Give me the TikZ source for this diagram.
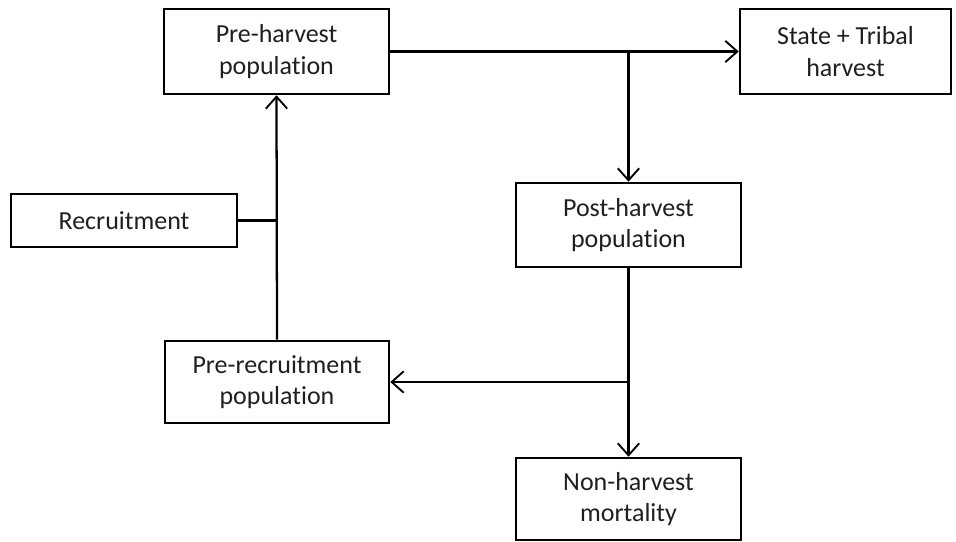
\documentclass[tikz,border=0pt]{standalone}
\usepackage{fontspec}
\setmainfont{Carlito}[Ligatures=NoCommon]
\usetikzlibrary{arrows.meta}
\begin{document}
\begin{tikzpicture}[x=0.75pt,y=-0.75pt,
  box/.style={draw=black,line width=1.9pt,rectangle,align=center,inner sep=0pt,
    font=\fontsize{19.5}{23.5}\selectfont,text=black!88},
  conn/.style={line width=1.7pt,draw=black},
  arr/.style={conn,-{Straight Barb[length=9pt,width=16pt,line width=1.4pt]}}]
\useasboundingbox (0,0) rectangle (956,542);
\node[box,minimum width=225*0.75pt,minimum height=85*0.75pt] (pre) at (276.5,51.5) {Pre-harvest\\population};
\node[box,minimum width=211*0.75pt,minimum height=85*0.75pt] (state) at (845.5,51.5) {State + Tribal\\harvest};
\node[box,minimum width=226*0.75pt,minimum height=53*0.75pt] (rec) at (124,220.5) {Recruitment};
\node[box,minimum width=225*0.75pt,minimum height=84*0.75pt] (post) at (628.5,225) {Post-harvest\\population};
\node[box,minimum width=224*0.75pt,minimum height=82*0.75pt] (prerec) at (277,382) {Pre-recruitment\\population};
\node[box,minimum width=225*0.75pt,minimum height=82*0.75pt] (non) at (628.5,499) {Non-harvest\\mortality};
\coordinate (j1) at (post.north |- pre.east);
\coordinate (j2) at (post.south |- prerec.east);
\coordinate (j3) at (prerec.north |- rec.east);
\draw[arr] (pre.east) -- (state.west);
\draw[arr] (j1) -- (post.north);
\draw[arr] (post.south) -- (non.north);
\draw[arr] (j2) -- (prerec.east);
\draw[arr] (prerec.north) -- (pre.south);
\draw[conn] (rec.east) -- (j3);
\end{tikzpicture}
\end{document}
